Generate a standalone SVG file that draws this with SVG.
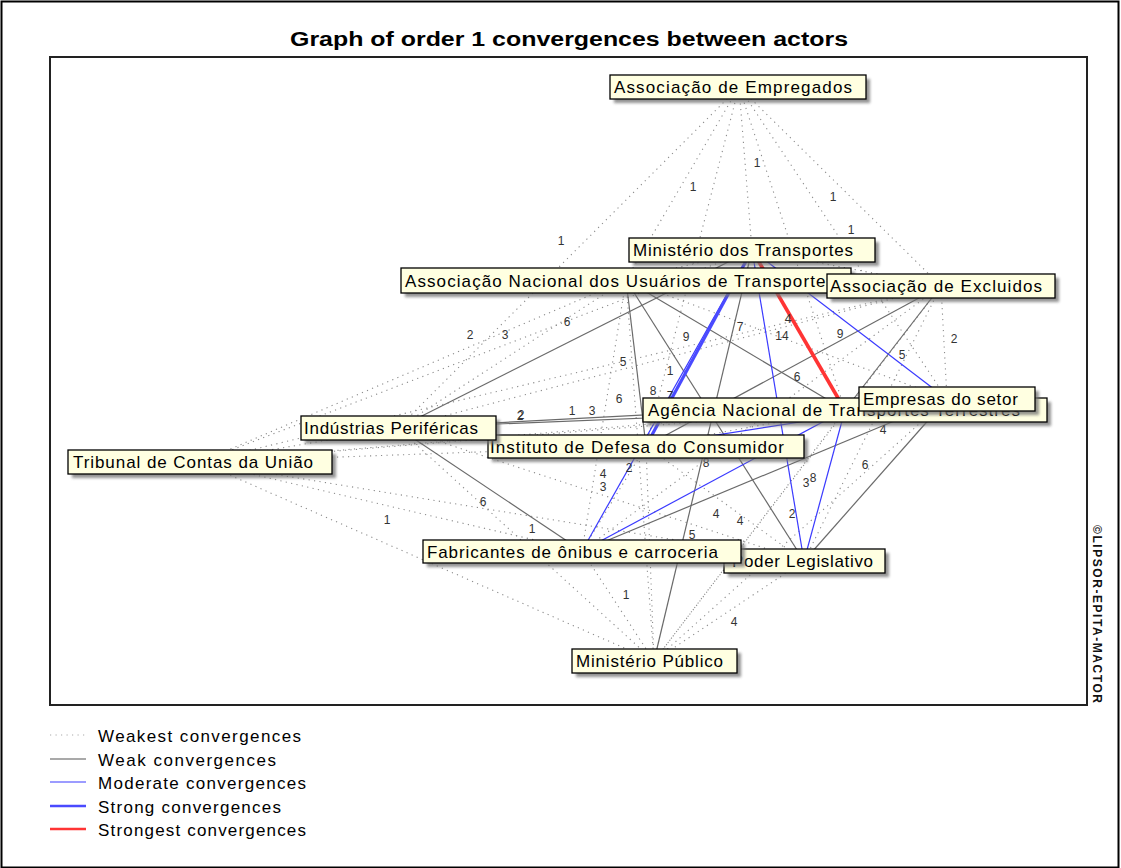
<svg xmlns="http://www.w3.org/2000/svg" width="1121" height="868" viewBox="0 0 1121 868">
<style>
text{font-family:"Liberation Sans",Arial,sans-serif}
.t{font-size:20px;font-weight:bold;fill:#000}
.nl{font-size:17px;fill:#000}
.el{font-size:12px;fill:#333;text-anchor:middle}
.lg{font-size:17px;fill:#000}
.box{fill:#FFFFE1;stroke:#000;stroke-width:1.3}
.sh{fill:#6e6e6e;opacity:.75}
.w0{stroke:#8c8c8c;stroke-width:1.1;stroke-dasharray:1.2 4.3;fill:none}
.w1{stroke:#6a6a6a;stroke-width:1.2;fill:none}
.w2{stroke:#3a3aff;stroke-width:1.2;fill:none}
.w3{stroke:#4a4aff;stroke-width:3.2;fill:none}
.w4{stroke:#ff3434;stroke-width:3.6;fill:none}
</style>
<defs>
<filter id="blur" x="-10%" y="-30%" width="120%" height="160%"><feGaussianBlur stdDeviation="1.6"/></filter>
</defs>
<rect x="0" y="0" width="1121" height="868" fill="#fff"/>
<rect x="1.5" y="1.5" width="1117" height="866" fill="none" stroke="#000" stroke-width="2"/>
<text class="t" x="290" y="46" textLength="558" lengthAdjust="spacingAndGlyphs">Graph of order 1 convergences between actors</text>
<rect x="50" y="57" width="1037" height="648" fill="none" stroke="#222" stroke-width="2"/>

<g id="connectors">
<!-- weakest (dotted) -->
<line class="w0" x1="739" y1="87" x2="398" y2="428"/>
<line class="w0" x1="739" y1="87" x2="626" y2="280"/>
<line class="w0" x1="739" y1="87" x2="646" y2="446"/>
<line class="w0" x1="739" y1="87" x2="752" y2="250"/>
<line class="w0" x1="739" y1="87" x2="845" y2="410"/>
<line class="w0" x1="739" y1="87" x2="947" y2="399"/>
<line class="w0" x1="739" y1="87" x2="941" y2="286"/>
<line class="w0" x1="752" y1="250" x2="626" y2="280"/>
<line class="w0" x1="752" y1="250" x2="941" y2="286"/>
<line class="w0" x1="752" y1="250" x2="200" y2="462"/>
<line class="w0" x1="626" y1="280" x2="941" y2="286"/>
<line class="w0" x1="626" y1="280" x2="947" y2="399"/>
<line class="w0" x1="626" y1="280" x2="398" y2="428"/>
<line class="w0" x1="626" y1="280" x2="200" y2="462"/>
<line class="w0" x1="626" y1="280" x2="582" y2="551"/>
<line class="w0" x1="626" y1="280" x2="654" y2="661"/>
<line class="w0" x1="941" y1="286" x2="947" y2="399"/>
<line class="w0" x1="941" y1="286" x2="398" y2="428"/>
<line class="w0" x1="941" y1="286" x2="200" y2="462"/>
<line class="w0" x1="941" y1="286" x2="582" y2="551"/>
<line class="w0" x1="941" y1="286" x2="804" y2="561"/>
<line class="w0" x1="941" y1="286" x2="654" y2="661"/>
<line class="w0" x1="947" y1="399" x2="845" y2="410"/>
<line class="w0" x1="947" y1="399" x2="200" y2="462"/>
<line class="w0" x1="947" y1="399" x2="654" y2="661"/>
<line class="w0" x1="845" y1="410" x2="646" y2="446"/>
<line class="w0" x1="845" y1="410" x2="200" y2="462"/>
<line class="w0" x1="845" y1="410" x2="654" y2="661"/>
<line class="w0" x1="646" y1="446" x2="398" y2="428"/>
<line class="w0" x1="646" y1="446" x2="200" y2="462"/>
<line class="w0" x1="646" y1="446" x2="582" y2="551"/>
<line class="w0" x1="646" y1="446" x2="804" y2="561"/>
<line class="w0" x1="646" y1="446" x2="654" y2="661"/>
<line class="w0" x1="398" y1="428" x2="200" y2="462"/>
<line class="w0" x1="398" y1="428" x2="804" y2="561"/>
<line class="w0" x1="398" y1="428" x2="654" y2="661"/>
<line class="w0" x1="200" y1="462" x2="582" y2="551"/>
<line class="w0" x1="200" y1="462" x2="804" y2="561"/>
<line class="w0" x1="200" y1="462" x2="654" y2="661"/>
<line class="w0" x1="582" y1="551" x2="804" y2="561"/>
<line class="w0" x1="582" y1="551" x2="654" y2="661"/>
<line class="w0" x1="804" y1="561" x2="654" y2="661"/>
<!-- weak -->
<line class="w1" x1="752" y1="250" x2="398" y2="428"/>
<line class="w1" x1="752" y1="250" x2="654" y2="661"/>
<line class="w1" x1="626" y1="280" x2="845" y2="410"/>
<line class="w1" x1="626" y1="280" x2="646" y2="446"/>
<line class="w1" x1="626" y1="280" x2="804" y2="561"/>
<line class="w1" x1="941" y1="286" x2="845" y2="410"/>
<line class="w1" x1="941" y1="286" x2="646" y2="446"/>
<line class="w1" x1="947" y1="399" x2="398" y2="428"/>
<line class="w1" x1="947" y1="399" x2="582" y2="551"/>
<line class="w1" x1="947" y1="399" x2="804" y2="561"/>
<line class="w1" x1="845" y1="410" x2="398" y2="428"/>
<line class="w1" x1="398" y1="428" x2="582" y2="551"/>
<!-- moderate -->
<line class="w2" x1="752" y1="250" x2="947" y2="399"/>
<line class="w2" x1="752" y1="250" x2="582" y2="551"/>
<line class="w2" x1="752" y1="250" x2="804" y2="561"/>
<line class="w2" x1="947" y1="399" x2="646" y2="446"/>
<line class="w2" x1="845" y1="410" x2="582" y2="551"/>
<line class="w2" x1="845" y1="410" x2="804" y2="561"/>
<!-- strong -->
<line class="w3" x1="752" y1="250" x2="646" y2="446"/>
<!-- strongest -->
<line class="w4" x1="752" y1="250" x2="845" y2="410"/>
<!-- edge labels -->
<text class="el" x="757" y="167">1</text>
<text class="el" x="693" y="191">1</text>
<text class="el" x="833" y="201">1</text>
<text class="el" x="851" y="234">1</text>
<text class="el" x="561" y="245">1</text>
<text class="el" x="470" y="339">2</text>
<text class="el" x="505" y="339">3</text>
<text class="el" x="567" y="326">6</text>
<text class="el" x="686" y="341">9</text>
<text class="el" x="740" y="331">7</text>
<text class="el" x="788" y="323">4</text>
<text class="el" x="782" y="340">14</text>
<text class="el" x="840" y="338">9</text>
<text class="el" x="902" y="359">5</text>
<text class="el" x="954" y="343">2</text>
<text class="el" x="623" y="366">5</text>
<text class="el" x="670" y="375">1</text>
<text class="el" x="797" y="381">6</text>
<text class="el" x="653" y="395">8</text>
<text class="el" x="670" y="400">7</text>
<text class="el" x="619" y="403">6</text>
<text class="el" x="520" y="420">2</text>
<text class="el" x="521" y="419">2</text>
<text class="el" x="572" y="415">1</text>
<text class="el" x="592" y="415">3</text>
<text class="el" x="883" y="434">4</text>
<text class="el" x="629" y="472">2</text>
<text class="el" x="706" y="467">8</text>
<text class="el" x="603" y="478">4</text>
<text class="el" x="603" y="491">3</text>
<text class="el" x="865" y="469">6</text>
<text class="el" x="806" y="487">3</text>
<text class="el" x="813" y="482">8</text>
<text class="el" x="483" y="506">6</text>
<text class="el" x="387" y="524">1</text>
<text class="el" x="716" y="518">4</text>
<text class="el" x="740" y="525">4</text>
<text class="el" x="792" y="518">2</text>
<text class="el" x="532" y="533">1</text>
<text class="el" x="692" y="539">5</text>
<text class="el" x="626" y="599">1</text>
<text class="el" x="734" y="626">4</text>
</g>

<g id="n-ae"><rect class="sh" x="614" y="79" width="256" height="24" filter="url(#blur)"/><rect class="box" x="610" y="75" width="256" height="24"/><text class="nl" x="614" y="93" textLength="238">Associação de Empregados</text></g>
<g id="n-mt"><rect class="sh" x="633" y="242" width="246" height="24" filter="url(#blur)"/><rect class="box" x="629" y="238" width="246" height="24"/><text class="nl" x="633" y="256" textLength="220">Ministério dos Transportes</text></g>
<g id="n-an"><rect class="sh" x="405" y="272" width="450" height="25" filter="url(#blur)"/><rect class="box" x="401" y="268" width="450" height="25"/><text class="nl" x="405" y="287" textLength="430">Associação Nacional dos Usuários de Transportes</text></g>
<g id="n-ax"><rect class="sh" x="831" y="278" width="228" height="24" filter="url(#blur)"/><rect class="box" x="827" y="274" width="228" height="24"/><text class="nl" x="830" y="292" textLength="212">Associação de Excluidos</text></g>
<g id="n-ag"><rect class="sh" x="647" y="402" width="404" height="24" filter="url(#blur)"/><rect class="box" x="643" y="398" width="404" height="24"/><text class="nl" x="648" y="416" textLength="372">Agência Nacional de Transportes Terrestres</text></g>
<g id="n-es"><rect class="sh" x="863" y="391" width="176" height="24" filter="url(#blur)"/><rect class="box" x="859" y="387" width="176" height="24"/><text class="nl" x="863" y="405" textLength="155">Empresas do setor</text></g>
<g id="n-id"><rect class="sh" x="492" y="439" width="316" height="23" filter="url(#blur)"/><rect class="box" x="488" y="435" width="316" height="23"/><text class="nl" x="490" y="453" textLength="294">Instituto de Defesa do Consumidor</text></g>
<g id="n-ip"><rect class="sh" x="305" y="420" width="195" height="24" filter="url(#blur)"/><rect class="box" x="301" y="416" width="195" height="24"/><text class="nl" x="304" y="434" textLength="174">Indústrias Periféricas</text></g>
<g id="n-tc"><rect class="sh" x="72" y="454" width="264" height="24" filter="url(#blur)"/><rect class="box" x="68" y="450" width="264" height="24"/><text class="nl" x="73" y="468" textLength="240">Tribunal de Contas da União</text></g>
<g id="n-pl"><rect class="sh" x="728" y="553" width="161" height="24" filter="url(#blur)"/><rect class="box" x="724" y="549" width="161" height="24"/><text class="nl" x="732" y="567" textLength="141">Poder Legislativo</text></g>
<g id="n-fa"><rect class="sh" x="427" y="544" width="318" height="23" filter="url(#blur)"/><rect class="box" x="423" y="540" width="318" height="23"/><text class="nl" x="427" y="558" textLength="291">Fabricantes de ônibus e carroceria</text></g>
<g id="n-mp"><rect class="sh" x="576" y="653" width="165" height="24" filter="url(#blur)"/><rect class="box" x="572" y="649" width="165" height="24"/><text class="nl" x="576" y="667" textLength="147">Ministério Público</text></g>

<g id="legend">
<line class="w0" x1="50" y1="735" x2="86" y2="735" style="stroke:#aaa"/>
<line class="w1" x1="50" y1="759" x2="86" y2="759" style="stroke:#555"/>
<line class="w2" x1="50" y1="782" x2="86" y2="782"/>
<line class="w3" x1="50" y1="806" x2="86" y2="806" style="stroke-width:2.6"/>
<line class="w4" x1="50" y1="829" x2="86" y2="829" style="stroke-width:2.6"/>
<text class="lg" x="98" y="742" textLength="203">Weakest convergences</text>
<text class="lg" x="98" y="766" textLength="178">Weak convergences</text>
<text class="lg" x="98" y="789" textLength="208">Moderate convergences</text>
<text class="lg" x="98" y="813" textLength="183">Strong convergences</text>
<text class="lg" x="98" y="836" textLength="208">Strongest convergences</text>
</g>
<text x="1093" y="525" transform="rotate(90 1093 525)" style="font-size:12px;font-weight:bold;fill:#111" textLength="178">©LIPSOR-EPITA-MACTOR</text>
</svg>
